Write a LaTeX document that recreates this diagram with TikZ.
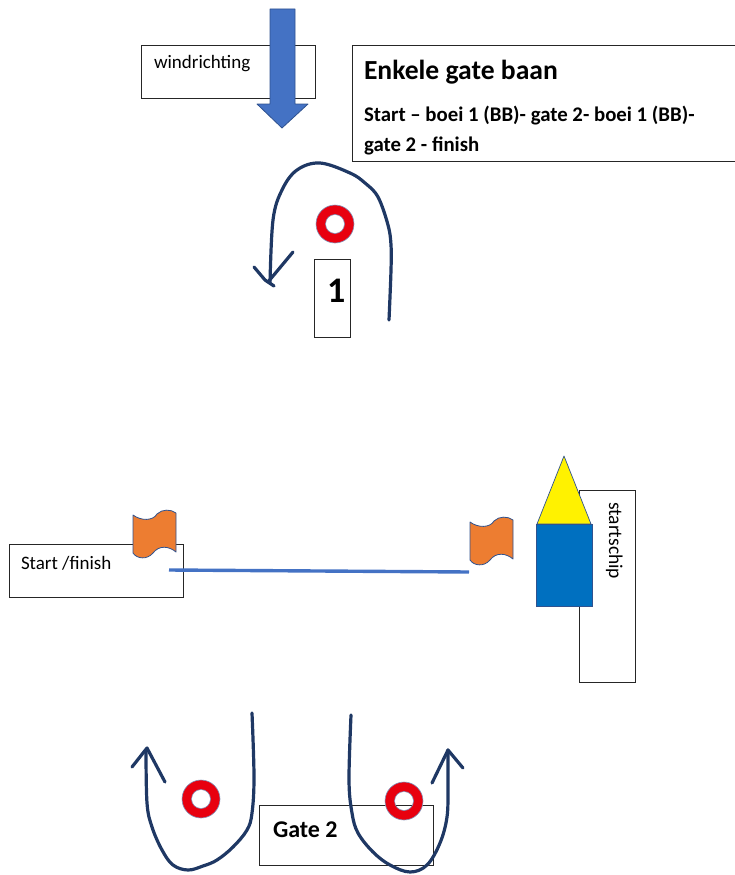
\documentclass[tikz,border=0pt]{standalone}
\usepackage{fontspec}
\setmainfont{Carlito}
\definecolor{arrowBlue}{HTML}{4472C4}
\definecolor{arrowEdge}{HTML}{2F528F}
\definecolor{shipBlue}{HTML}{0070C0}
\definecolor{flagOrange}{HTML}{ED7D31}
\definecolor{trackNavy}{HTML}{1F3864}
\definecolor{buoyRed}{HTML}{E8000F}
\tikzset{
  box/.style={draw=black!85,line width=0.9pt,fill=white,anchor=north west,inner sep=0pt},
  boxtext/.style={anchor=base west,inner sep=0pt,outer sep=0pt,text=black},
  track/.style={draw=trackNavy,line width=3.2pt,line cap=round,line join=round},
  buoy/.pic={
    \path[fill=buoyRed,draw=arrowEdge!60,line width=0.6pt,even odd rule]
      (0,0) circle[radius=19pt] (0,0) circle[radius=9.5pt];
  },
  flag/.pic={
    \path[fill=flagOrange,draw=arrowEdge,line width=0.8pt,line join=round]
      (0,5) .. controls (8,11) and (20,11) .. (24,4)
      .. controls (29,-1) and (38,-1) .. (43,3) -- (43,42)
      .. controls (36,36) and (26,35) .. (20,43)
      .. controls (14,50) and (4,49) .. (0,43) -- cycle;
  }
}
\begin{document}
\begin{tikzpicture}[x=1pt,y=-1pt]
\useasboundingbox (0,0) rectangle (735,875);
\begin{scope}
\path[clip] (0,0) rectangle (735,875);
% text boxes
\node[box,minimum width=174pt,minimum height=53pt] (windbox) at (141,45) {};
\node[boxtext,font=\fontsize{19}{22}\selectfont] (windlabel) at (154,69) {windrichting};
\node[box,minimum width=400pt,minimum height=116pt] (titlebox) at (352,45) {};
\node[boxtext,font=\fontsize{27.6}{32}\selectfont\bfseries] (titlelabel) at (364,79) {Enkele gate baan};
\node[boxtext,font=\fontsize{20.8}{24}\selectfont\bfseries] (routeone) at (364,121) {Start -- boei 1 (BB)- gate 2- boei 1 (BB)-};
\node[boxtext,font=\fontsize{20.8}{24}\selectfont\bfseries] (routetwo) at (364,151) {gate 2 - finish};
\node[box,minimum width=36pt,minimum height=78pt] (onebox) at (314,259) {};
\node[boxtext,font=\fontsize{36}{42}\selectfont\bfseries] (onelabel) at (327,302) {1};
\node[box,minimum width=174pt,minimum height=53pt] (startbox) at (9,544) {};
\node[boxtext,font=\fontsize{19}{22}\selectfont] (startlabel) at (21,569) {Start /finish};
\node[box,minimum width=56pt,minimum height=192pt] (shipbox) at (579,490) {};
\node[boxtext,rotate=-90,font=\fontsize{19.5}{23}\selectfont] (shiplabel) at (609,502) {startschip};
\node[box,minimum width=174pt,minimum height=60pt] (gatebox) at (259,805) {};
\node[boxtext,font=\fontsize{24}{28}\selectfont\bfseries] (gatelabel) at (273,837) {Gate 2};
% wind arrow
\path[fill=arrowBlue,draw=arrowEdge,line width=0.8pt,line join=round]
  (270,9) -- (295,9) -- (295,104) -- (308,104) -- (282,128) -- (257,104) -- (270,104) -- cycle;
% buoys
\pic at (335,224) {buoy};
\pic at (201,799) {buoy};
\pic at (404,801) {buoy};
% flags and start line
\pic at (133,510) {flag};
\pic at (470,517) {flag};
\coordinate (lineleft) at (169,570);
\coordinate (lineright) at (469,572);
\draw[arrowBlue,line width=3.4pt] (lineleft) -- (lineright);
% ship
\path[fill=yellow,draw=arrowEdge,line width=0.7pt,line join=round] (564,456) -- (591,524) -- (537,524) -- cycle;
\path[fill=shipBlue,draw=arrowEdge,line width=0.7pt] (536,524) rectangle (592,606);
% tracks
\draw[track] plot[smooth,tension=0.6] coordinates {(389,320) (391,270) (391,245) (388,225) (378,197) (365,183) (350,173) (320,163) (297,170) (282,190) (273,220) (270,283)};
\draw[track] (254,267) -- (265,280) -- (274,286);
\draw[track] (293,252) -- (268,282);
\draw[track] plot[smooth,tension=0.6] coordinates {(252,713) (254,777) (252,813) (247,830) (233,847) (217,860) (203,866) (188,870) (173,865) (162,850) (152,827) (147,803) (146,750)};
\draw[track] (132,767) -- (147,748) -- (165,782);
\draw[track] plot[smooth,tension=0.6] coordinates {(351,715) (349,780) (352,813) (358,833) (373,852) (390,865) (410,872) (427,865) (440,843) (447,817) (448,787) (448,750)};
\draw[track] (432,783) -- (448,750) -- (463,768);
\end{scope}
\end{tikzpicture}
\end{document}
